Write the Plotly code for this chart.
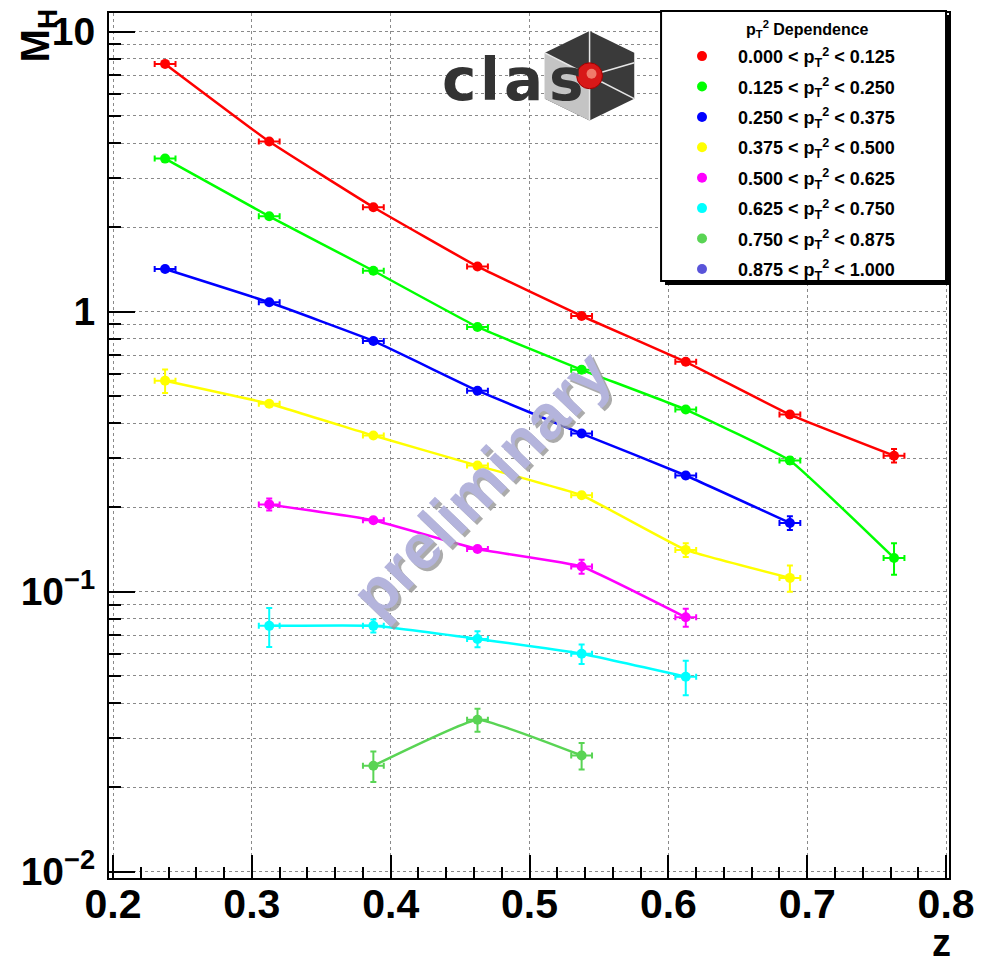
import plotly.graph_objects as go

# ---- data: M_H versus z in bins of p_T^2 ----
z_bins = [0.2375, 0.3125, 0.3875, 0.4625, 0.5375, 0.6125, 0.6875, 0.7625]
z_half_width = 0.0075

legend_title = "p<sub>T</sub><sup>2</sup> Dependence"
bin_labels = [
    "0.000 < p<sub>T</sub><sup>2</sup> < 0.125",
    "0.125 < p<sub>T</sub><sup>2</sup> < 0.250",
    "0.250 < p<sub>T</sub><sup>2</sup> < 0.375",
    "0.375 < p<sub>T</sub><sup>2</sup> < 0.500",
    "0.500 < p<sub>T</sub><sup>2</sup> < 0.625",
    "0.625 < p<sub>T</sub><sup>2</sup> < 0.750",
    "0.750 < p<sub>T</sub><sup>2</sup> < 0.875",
    "0.875 < p<sub>T</sub><sup>2</sup> < 1.000",
]
bin_colors = ["#ff0000", "#00ff00", "#0000ff", "#ffff00",
              "#ff00ff", "#00ffff", "#59d454", "#5954d9"]

z_pt1 = z_bins
mh_pt1 = [7.67, 4.05, 2.36, 1.45, 0.965, 0.662, 0.429, 0.306]
err_pt1 = [0.12, 0.06, 0.035, 0.02, 0.015, 0.012, 0.010, 0.017]

z_pt2 = z_bins
mh_pt2 = [3.52, 2.19, 1.40, 0.882, 0.620, 0.447, 0.294, 0.132]
err_pt2 = [0.05, 0.035, 0.02, 0.013, 0.010, 0.009, 0.008, 0.017]

z_pt3 = z_bins[:7]
mh_pt3 = [1.42, 1.08, 0.786, 0.522, 0.367, 0.260, 0.176]
err_pt3 = [0.025, 0.02, 0.014, 0.010, 0.008, 0.006, 0.010]

z_pt4 = z_bins[:7]
mh_pt4 = [0.567, 0.469, 0.361, 0.282, 0.221, 0.141, 0.112]
err_pt4 = [0.055, 0.010, 0.007, 0.006, 0.005, 0.008, 0.012]

z_pt5 = z_bins[1:6]
mh_pt5 = [0.205, 0.180, 0.142, 0.123, 0.081]
err_pt5 = [0.010, 0.004, 0.003, 0.007, 0.006]

z_pt6 = z_bins[1:6]
mh_pt6 = [0.0755, 0.0755, 0.0678, 0.0600, 0.0497]
err_pt6 = [0.012, 0.004, 0.0045, 0.0048, 0.007]

z_pt7 = z_bins[2:5]
mh_pt7 = [0.0239, 0.0349, 0.0260]
err_pt7 = [0.0030, 0.0033, 0.0028]

# highest p_T^2 bin has no entries
z_pt8 = []
mh_pt8 = []
err_pt8 = []

series = [
    (z_pt1, mh_pt1, err_pt1), (z_pt2, mh_pt2, err_pt2),
    (z_pt3, mh_pt3, err_pt3), (z_pt4, mh_pt4, err_pt4),
    (z_pt5, mh_pt5, err_pt5), (z_pt6, mh_pt6, err_pt6),
    (z_pt7, mh_pt7, err_pt7), (z_pt8, mh_pt8, err_pt8),
]

y_tick_vals = [0.01, 0.1, 1, 10]
y_tick_text = ["10<sup>\u22122</sup>", "10<sup>\u22121</sup>", "1", "10"]
x_tick_vals = [0.2, 0.3, 0.4, 0.5, 0.6, 0.7, 0.8]
x_tick_text = ["0.2", "0.3", "0.4", "0.5", "0.6", "0.7", "0.8"]

# ---- canvas geometry (pixels) ----
W, H = 985, 963
ML, MR, MT, MB = 109, 30, 10, 85
PW, PH = W - ML - MR, H - MT - MB


def px(x):
    return (x - ML) / PW


def py(y):
    return (H - MB - y) / PH


FONT = "Liberation Sans, Arial, Helvetica, sans-serif"

fig = go.Figure()

# smooth connecting curves
for (zs, ms, es), col in zip(series, bin_colors):
    if zs:
        fig.add_trace(go.Scatter(
            x=zs, y=ms, mode="lines", showlegend=False, hoverinfo="skip",
            line=dict(color=col, width=2.5, shape="spline", smoothing=0.3),
        ))

# points with error bars
for i, ((zs, ms, es), col, lab) in enumerate(zip(series, bin_colors, bin_labels)):
    fig.add_trace(go.Scatter(
        x=zs if zs else [None], y=ms if ms else [None],
        mode="markers", name=lab, legendgroup=f"g{i}",
        marker=dict(color=col, size=10, symbol="circle"),
        error_y=dict(type="data", array=es, color=col, thickness=2, width=3),
        error_x=dict(type="constant", value=z_half_width, color=col,
                     thickness=2, width=3),
    ))

shapes = []

# legend frame with shadow
shapes.append(dict(type="rect", xref="paper", yref="paper",
                   x0=px(669), x1=px(956), y0=py(283), y1=py(12),
                   fillcolor="black", line=dict(width=0), layer="above"))
shapes.append(dict(type="rect", xref="paper", yref="paper",
                   x0=px(665), x1=px(952), y0=py(279), y1=py(8),
                   fillcolor="white", line=dict(color="black", width=2),
                   layer="above"))

# logo: hexagonal cube with a red sphere
cx, cy = 593, 73
hexv = [(593, 28), (638, 50), (638, 96), (593, 118), (548, 96), (548, 50)]


def path(pts):
    return "M " + " L ".join(f"{px(a):.5f},{py(b):.5f}" for a, b in pts) + " Z"


shapes.append(dict(type="path", xref="paper", yref="paper", path=path(hexv),
                   fillcolor="#3a3a3a", line=dict(width=0), layer="above"))
shapes.append(dict(type="path", xref="paper", yref="paper",
                   path=path([(548, 50), (cx, cy), (593, 118), (548, 96)]),
                   fillcolor="#c4c4c4", line=dict(width=0), layer="above"))
for (a, b) in [(593, 28), (638, 60), (638, 96), (593, 118), (548, 50)]:
    shapes.append(dict(type="line", xref="paper", yref="paper",
                       x0=px(cx), y0=py(cy), x1=px(a), y1=py(b),
                       line=dict(color="#e6e6e6", width=1.5), layer="above"))
shapes.append(dict(type="circle", xref="paper", yref="paper",
                   x0=px(cx - 13), x1=px(cx + 13), y0=py(cy + 13), y1=py(cy - 13),
                   fillcolor="#d81818", line=dict(color="#a00000", width=1),
                   layer="above"))
shapes.append(dict(type="circle", xref="paper", yref="paper",
                   x0=px(cx - 3), x1=px(cx + 7), y0=py(cy + 3), y1=py(cy - 7),
                   fillcolor="#f07a6a", line=dict(width=0), layer="above"))

annotations = []
for ch, xc in [("c", 462), ("l", 493), ("a", 526), ("s", 570)]:
    annotations.append(dict(
        text=ch, xref="paper", yref="paper", x=px(xc), y=py(98),
        xanchor="center", yanchor="bottom", showarrow=False,
        font=dict(family="DejaVu Sans", size=58, color="#333333", weight="bold"),
        yshift=-15,
    ))

# watermark
for dx, dy, col in [(3, 3, "rgba(150,150,150,0.8)"), (0, 0, "rgba(180,180,220,1)")]:
    annotations.append(dict(
        text="preliminary", xref="paper", yref="paper",
        x=px(484 + dx), y=py(482 + dy), xanchor="center", yanchor="middle",
        showarrow=False, textangle=-46,
        font=dict(family="Liberation Sans, Arial", size=63, color=col,
                  weight="bold"),
    ))

# legend heading, centred in the legend frame
annotations.append(dict(
    text=legend_title, xref="paper", yref="paper", x=px(812), y=py(26),
    xanchor="center", yanchor="middle", showarrow=False,
    font=dict(family=FONT, size=16, color="black", weight="bold"),
))

# axis titles
annotations.append(dict(
    text="M<sub>H</sub>", xref="paper", yref="paper", x=px(37), y=py(33),
    xanchor="center", yanchor="middle", showarrow=False, textangle=-90,
    font=dict(family=FONT, size=40, color="black", weight="bold"),
))
annotations.append(dict(
    text="z", xref="paper", yref="paper", x=px(947), y=py(943),
    xanchor="center", yanchor="middle", showarrow=False,
    font=dict(family=FONT, size=38, color="black", weight="bold"),
))

fig.update_layout(
    width=W, height=H,
    margin=dict(l=ML, r=MR, t=MT, b=MB),
    paper_bgcolor="white", plot_bgcolor="white",
    shapes=shapes, annotations=annotations,
    showlegend=True,
    legend=dict(
        x=px(670), y=py(35), xanchor="left", yanchor="top",
        bgcolor="rgba(0,0,0,0)", borderwidth=0,
        font=dict(family=FONT, size=18, color="black", weight="bold"),
        tracegroupgap=4, itemwidth=62,
    ),
    xaxis=dict(
        range=[0.1971, 0.8021], tickvals=x_tick_vals, ticktext=x_tick_text,
        ticks="inside", ticklen=23, tickwidth=1.5, tickcolor="black",
        minor=dict(ticks="inside", ticklen=11, tickwidth=1.5, dtick=0.02,
                   tickcolor="black", showgrid=False),
        showgrid=True, gridcolor="#8a8a8a", griddash="dot", gridwidth=1,
        showline=True, linecolor="black", linewidth=2, mirror=True,
        zeroline=False, ticklabelstandoff=-11,
        tickfont=dict(family=FONT, size=41, color="black", weight="bold"),
    ),
    yaxis=dict(
        type="log", range=[-2.0224, 1.0665],
        tickvals=y_tick_vals, ticktext=y_tick_text,
        ticks="inside", ticklen=26, tickwidth=2, tickcolor="black",
        minor=dict(ticks="inside", ticklen=12, tickwidth=1.5, dtick="D1",
                   tickcolor="black", showgrid=True, gridcolor="#8a8a8a",
                   griddash="dot", gridwidth=1),
        showgrid=True, gridcolor="#8a8a8a", griddash="dot", gridwidth=1,
        showline=True, linecolor="black", linewidth=2, mirror=True,
        zeroline=False, ticklabelstandoff=4,
        tickfont=dict(family=FONT, size=39, color="black", weight="bold"),
    ),
)

fig.write_html("out.html")
